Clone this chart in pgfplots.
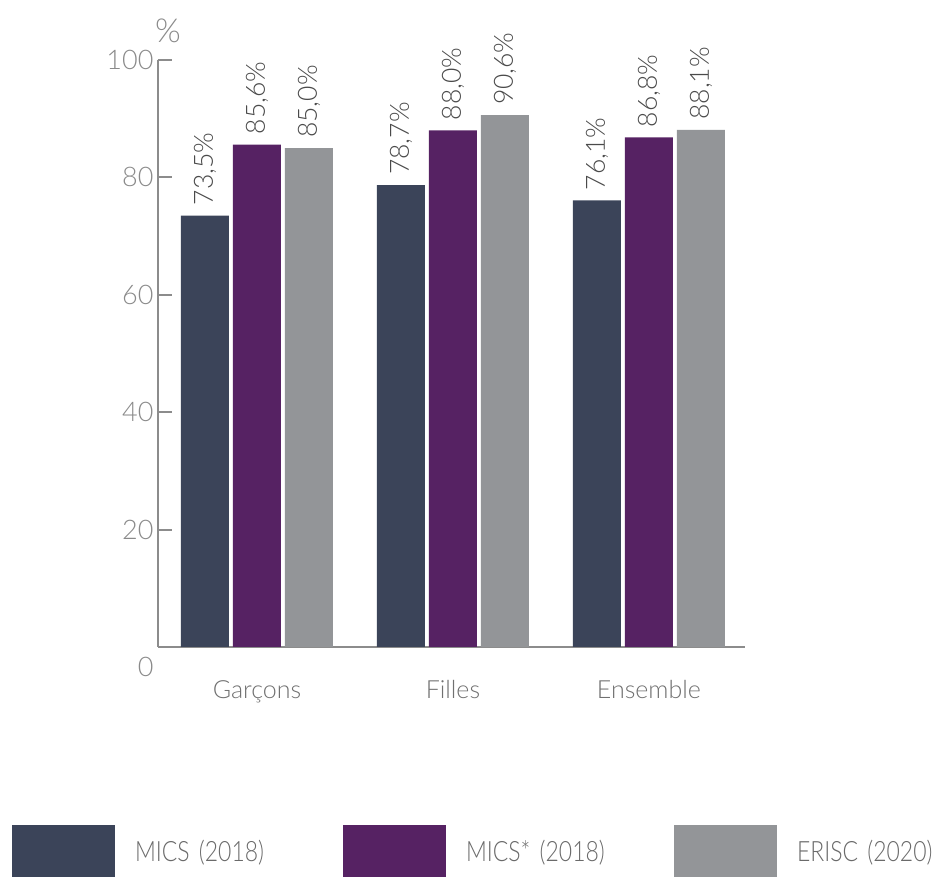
\documentclass[border=0pt]{standalone}
\usepackage{fontspec}
\setmainfont{Lato}[UprightFont=* Light]
\newfontfamily\condfont{Lato}[UprightFont=* Light, FakeStretch=0.82]
\usepackage{pgfplots}
\pgfplotsset{compat=1.18}
\definecolor{cA}{HTML}{3B4459}
\definecolor{cB}{HTML}{562263}
\definecolor{cC}{HTML}{939598}
\definecolor{axisgray}{HTML}{8C8C8C}
\definecolor{tickgray}{HTML}{8A8A8A}
\definecolor{catgray}{HTML}{707070}
\definecolor{labgray}{HTML}{4A4A4A}
\definecolor{leggray}{HTML}{6A6A6A}
\begin{document}
\begin{tikzpicture}
\begin{axis}[
  at={(158pt,230pt)}, anchor=south west,
  scale only axis, width=587pt, height=587pt,
  ymin=0, ymax=100, xmin=-0.505, xmax=2.49,
  clip=false,
  axis lines=left, axis line style={-, draw=axisgray, line width=2pt},
  /pgf/number format/assume math mode=true,
  ytick={20,40,60,80,100},
  extra y ticks={0},
  extra y tick style={yticklabel style={yshift=-20pt}, major tick length=0pt},
  tick align=inside, major tick length=14pt,
  y tick style={draw=axisgray, line width=2pt},
  yticklabel style={font=\fontsize{27}{32}\selectfont, text=tickgray, xshift=-1pt},
  xtick={0,1,2}, xticklabels={Garçons,Filles,Ensemble},
  x tick style={draw=none},
  xticklabel style={font=\fontsize{25}{30}\selectfont, text=catgray, yshift=-16pt},
  ybar=4pt, bar width=48pt,
  nodes near coords={\pgfmathprintnumber[fixed, fixed zerofill, precision=1, use comma]{\pgfplotspointmeta}\%},
  nodes near coords style={rotate=90, anchor=west, inner xsep=10pt, font=\fontsize{26.5}{31}\selectfont, text=labgray},
  legend columns=3,
  legend style={at={(axis description cs:-0.2487,-0.3032)}, anchor=north west,
    draw=none, fill=none, inner sep=0pt, outer sep=0pt,
    font=\condfont\fontsize{28}{33}\selectfont, text=leggray,
    nodes={inner sep=0pt, text width=208pt, align=left},
    /tikz/every odd column/.append style={column sep=20pt},
    /tikz/every even column/.append style={column sep=0pt}},
  legend image code/.code={\fill[#1, draw=none] (0pt,-25pt) rectangle (103pt,27pt);},
]
\addplot[fill=cA, draw=none] coordinates {(0,73.5) (1,78.7) (2,76.1)};
\addplot[fill=cB, draw=none] coordinates {(0,85.6) (1,88.0) (2,86.8)};
\addplot[fill=cC, draw=none] coordinates {(0,85.0) (1,90.6) (2,88.1)};
\legend{MICS (2018), MICS* (2018), ERISC (2020)}
\node[font=\fontsize{33}{38}\selectfont, text=tickgray] at (axis description cs:0.017,1.05) {\%};
\end{axis}
\pgfresetboundingbox
\path (0pt,0pt) rectangle (951pt,877pt);
\end{tikzpicture}
\end{document}
